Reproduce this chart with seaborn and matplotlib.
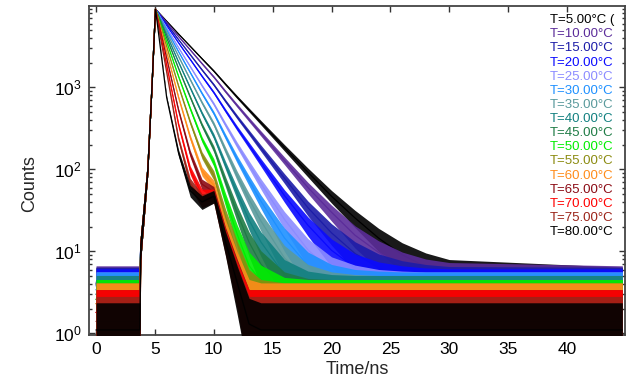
import numpy as np
import pandas as pd
import matplotlib
matplotlib.use("Agg")
import matplotlib.pyplot as plt
from matplotlib.ticker import MultipleLocator, NullLocator
import seaborn as sns

# time grid (ns) shared by every decay curve
time_ns = [0.0, 3.72, 3.8, 4.4, 4.75, 5.05, 6, 7, 8, 9, 10, 11, 12, 13, 14,
           16, 18, 20, 22, 24, 26, 28, 30, 44.7]

# common rising edge of the pulse, t = 3.8 .. 5.05 ns
rise_counts = [12, 100, 1000, 9000]

temperatures = [5, 10, 15, 20, 25, 30, 35, 40, 45, 50, 55, 60, 65, 70, 75, 80]
legend_labels = ["T=5.00°C (", "T=10.00°C", "T=15.00°C", "T=20.00°C",
                 "T=25.00°C", "T=30.00°C", "T=35.00°C", "T=40.00°C",
                 "T=45.00°C", "T=50.00°C", "T=55.00°C", "T=60.00°C",
                 "T=65.00°C", "T=70.00°C", "T=75.00°C", "T=80.00°C"]
colors = ["#000000", "#5b2c9a", "#1c1ca8", "#0a0aff", "#8c8cff", "#1e90ff",
          "#5a9a9c", "#128080", "#1e7b45", "#00ee00", "#8b8b10", "#ff8c1a",
          "#8b0a14", "#ff0000", "#9b2318", "#000000"]

# dark-count level before the pulse, per curve
background = [4.0, 4.2, 4.0, 3.8, 3.4, 3.4, 3.0, 3.0, 2.6, 2.6, 2.3, 2.3,
              1.8, 1.8, 1.4, 1.1]

# decay counts at t = 6 .. 44.7 ns
counts_5c = [6410, 4490, 3170, 2235, 1585, 1090, 756, 530, 372, 184, 92, 47, 25.5, 14.5, 9.1, 6.5, 5.2, 4.0]
counts_10c = [6200, 4190, 2865, 1950, 1340, 888, 596, 404, 275, 128, 60, 30, 15.7, 9.7, 6.7, 5.3, 4.7, 4.2]
counts_15c = [5935, 3833, 2505, 1633, 1077, 678, 433, 281, 182, 78, 34, 16.8, 9.4, 6.3, 5.0, 4.4, 4.1, 4.0]
counts_20c = [5683, 3504, 2190, 1367, 866, 518, 315, 196, 122, 48, 20.8, 10.3, 6.3, 4.8, 4.2, 3.9, 3.8, 3.8]
counts_25c = [5321, 3062, 1792, 1049, 628, 348, 196, 114, 67, 24.6, 10.4, 5.7, 4.3, 3.7, 3.5, 3.4, 3.4, 3.4]
counts_30c = [5035, 2735, 1516, 842, 484, 250, 132, 73, 41, 14.6, 6.7, 4.4, 3.7, 3.5, 3.4, 3.4, 3.4, 3.4]
counts_35c = [4721, 2393, 1243, 650, 357, 170, 83, 43, 23.5, 8.3, 4.4, 3.4, 3.1, 3.0, 3.0, 3.0, 3.0, 3.0]
counts_40c = [4370, 2044, 986, 482, 254, 112, 51, 24, 13, 5.2, 3.5, 3.1, 3.0, 3.0, 3.0, 3.0, 3.0, 3.0]
counts_45c = [4004, 1708, 759, 346, 178, 71, 29, 12.9, 7.0, 3.4, 2.7, 2.6, 2.6, 2.6, 2.6, 2.6, 2.6, 2.6]
counts_50c = [3589, 1365, 549, 232, 122, 43, 16, 6.7, 4.3, 2.8, 2.6, 2.6, 2.6, 2.6, 2.6, 2.6, 2.6, 2.6]
counts_55c = [3148, 1042, 375, 149, 85, 26.5, 9.5, 3.7, 2.6, 2.3, 2.3, 2.3, 2.3, 2.3, 2.3, 2.3, 2.3, 2.3]
counts_60c = [2701, 761, 245, 95, 64, 18.8, 6.7, 2.6, 2.3, 2.3, 2.3, 2.3, 2.3, 2.3, 2.3, 2.3, 2.3, 2.3]
counts_65c = [2267, 531, 155, 66, 53, 15, 5.2, 1.8, 1.8, 1.8, 1.8, 1.8, 1.8, 1.8, 1.8, 1.8, 1.8, 1.8]
counts_70c = [1862, 355, 98, 49, 49, 14, 4.8, 1.8, 1.8, 1.8, 1.8, 1.8, 1.8, 1.8, 1.8, 1.8, 1.8, 1.8]
counts_75c = [1529, 237, 68, 42, 47, 13.3, 4.4, 1.4, 1.4, 1.4, 1.4, 1.4, 1.4, 1.4, 1.4, 1.4, 1.4, 1.4]
counts_80c = [750, 160, 55, 40, 47, 13, 4.1, 1.3, 1.1, 1.1, 1.1, 1.1, 1.1, 1.1, 1.1, 1.1, 1.1, 1.1]

decays = [counts_5c, counts_10c, counts_15c, counts_20c, counts_25c, counts_30c,
          counts_35c, counts_40c, counts_45c, counts_50c, counts_55c, counts_60c,
          counts_65c, counts_70c, counts_75c, counts_80c]

rows = []
for label, bg, decay in zip(legend_labels, background, decays):
    series = [bg, bg] + rise_counts + decay
    for t, c in zip(time_ns, series):
        rows.append({"time": t, "counts": c, "label": label})
df = pd.DataFrame(rows)

sns.set_style("ticks")
plt.rcParams["font.family"] = ["Liberation Sans", "DejaVu Sans"]

fig = plt.figure(figsize=(6.4, 3.8), dpi=100)
ax = fig.add_axes([0.139, 0.118, 0.838, 0.866])
ax.set_yscale("log")

for i, (label, color) in enumerate(zip(legend_labels, colors)):
    sub = df[df["label"] == label]
    c = sub["counts"].to_numpy()
    # photon-counting spread drawn as the noisy band
    lo = np.clip(c - 1.2 * np.sqrt(c), 0.3, None)
    hi = c + 1.2 * np.sqrt(c)
    ax.fill_between(sub["time"], lo, hi, color=color, alpha=0.9,
                    lw=0, zorder=2 + 2 * i)
    sns.lineplot(data=sub, x="time", y="counts", color=color, lw=0.9,
                 estimator=None, legend=False, ax=ax, zorder=3 + 2 * i)

for i, (label, color) in enumerate(zip(legend_labels, colors)):
    ax.text(0.860, 0.957 - i * 0.0429, label, color=color, fontsize=9.5,
            va="center", ha="left", transform=ax.transAxes, zorder=50)

ax.set_xlim(-0.6, 44.95)
ax.set_ylim(0.95, 9800)
ax.xaxis.set_major_locator(MultipleLocator(5))
ax.xaxis.set_minor_locator(NullLocator())

ax.tick_params(which="both", direction="in", top=True, right=True,
               colors="#333333", labelcolor="black", width=1.0)
ax.tick_params(which="major", length=4, labelsize=12.5, pad=5)
ax.tick_params(which="minor", length=2)
for sp in ax.spines.values():
    sp.set_color("#444444")
    sp.set_linewidth(1.3)

ax.set_xlabel("Time/ns", fontsize=13, labelpad=3)
ax.set_ylabel("Counts", fontsize=13)
ax.yaxis.set_label_coords(-0.095, 0.46)

fig.savefig("out.png", dpi=100)
